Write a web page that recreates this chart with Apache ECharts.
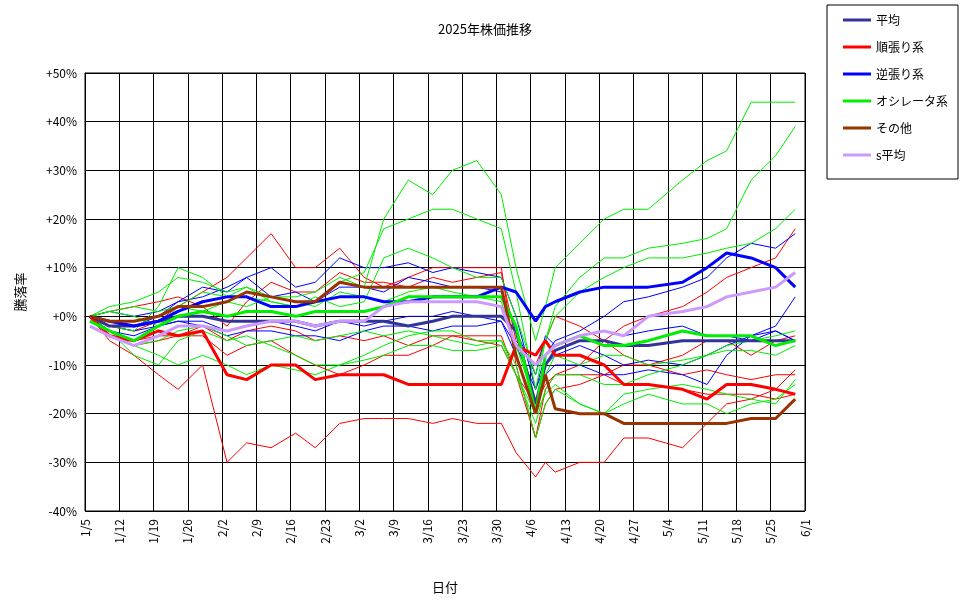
<!DOCTYPE html>
<html><head><meta charset="utf-8">
<script src="https://cdn.jsdelivr.net/npm/echarts@6/dist/echarts.min.js"></script>
<style>html,body{margin:0;padding:0;background:#fff}#c{width:970px;height:604px}</style>
</head><body><div id="c"></div>
<script>
const dates=['1/6','1/10','1/15','1/20','1/24','1/29','2/3','2/7','2/12','2/17','2/21','2/26','3/3','3/7','3/12','3/17','3/21','3/26','3/31','4/3','4/7','4/9','4/11','4/16','4/21','4/25','4/30','5/7','5/12','5/16','5/21','5/26','5/30'];
const heikin=[0,-2,-2,-1,0,0,-1,-1,-1,-1,-2,-1,-1,-1,-2,-1,0,0,0,-3,-18,-10,-7,-5,-5,-6,-6,-5,-5,-5,-5,-5,-5];
const junbari=[0,-4,-5,-3,-4,-3,-12,-13,-10,-10,-13,-12,-12,-12,-14,-14,-14,-14,-14,-6,-8,-5,-8,-8,-10,-14,-14,-15,-17,-14,-14,-15,-16];
const gyakubari=[0,-1,-2,-1,1,3,4,4,2,2,3,4,4,3,3,4,4,4,6,5,-1,2,3,5,6,6,6,7,10,13,12,10,6];
const oscillator=[-1,-3,-5,-2,0,1,0,1,1,0,1,1,1,2,4,4,4,4,4,-2,-20,-8,-6,-4,-6,-6,-5,-3,-4,-4,-4,-6,-5];
const sonota=[0,-1,-1,0,2,2,3,5,4,3,3,7,6,6,6,6,6,6,6,-8,-20,-12,-19,-20,-20,-22,-22,-22,-22,-22,-21,-21,-17];
const sHeikin=[-2,-4,-6,-4,-2,-2,-3,-2,-1,-1,-2,-1,-1,2,3,3,3,3,2,-6,-10,-8,-6,-4,-3,-4,0,1,2,4,5,6,9];
const redThin=[
[0,-2,-3,-1,2,5,8,12,17,10,10,14,8,6,8,10,10,10,10,-10,-25,-15,-12,-10,-5,-2,0,2,5,8,10,12,18],
[0,-5,-8,-12,-15,-10,-30,-26,-27,-24,-27,-22,-21,-21,-21,-22,-21,-22,-22,-28,-33,-30,-32,-30,-30,-25,-25,-27,-22,-18,-17,-15,-11],
[0,-3,-6,-5,-4,-4,-8,-6,-5,-8,-10,-12,-10,-8,-8,-6,-4,-4,-4,-12,-18,-14,-12,-12,-12,-14,-14,-15,-16,-16,-16,-17,-16],
[0,1,2,3,4,2,-2,3,7,5,5,9,7,7,6,8,7,8,9,-5,-10,-5,0,-2,-5,-8,-10,-8,-5,-5,-8,-5,-4],
[0,-3,-5,-4,-4,-2,-5,-3,-2,-3,-5,-4,-5,-4,-6,-4,-4,-5,-6,-12,-25,-18,-15,-14,-12,-10,-10,-12,-11,-12,-13,-12,-12]];
const blueThin=[
[0,-1,-2,0,3,6,5,8,10,6,7,12,10,10,11,9,10,9,8,0,-15,-8,-5,-3,0,3,4,6,8,12,15,14,17],
[0,-3,-4,-2,-1,-2,-4,-3,-3,-4,-4,-5,-3,-2,-2,-3,-2,-2,-1,-8,-20,-12,-10,-10,-12,-12,-11,-12,-14,-8,-4,-3,-5],
[0,1,0,1,3,4,6,8,4,5,3,6,6,5,8,7,6,6,5,-3,-12,-4,-6,-4,-3,-4,-3,-2,-4,-4,-5,-3,-5],
[0,-2,-3,-2,-1,-1,-3,-2,-1,-2,-3,-1,-2,-1,0,0,1,0,-1,-6,-15,-10,-8,-6,-8,-10,-9,-10,-8,-6,-4,-2,4]];
const greenThin=[
[0,2,3,5,8,7,5,6,4,4,5,8,6,20,28,25,30,32,25,10,-5,2,10,15,20,22,22,28,32,34,44,44,44],
[0,1,0,-2,2,5,4,4,3,2,3,7,9,18,20,22,22,20,18,5,-15,-5,2,8,12,12,14,15,16,18,28,33,39],
[0,-3,-8,-10,-5,-3,-5,-4,-6,-8,-10,-10,-8,-6,-4,-3,-3,-5,-5,-10,-25,-18,-15,-18,-20,-16,-15,-14,-15,-16,-17,-18,-13],
[0,-2,-3,2,10,8,4,6,3,2,4,2,3,12,14,12,10,8,8,0,-12,-5,0,5,8,10,12,12,13,14,15,18,22],
[0,-4,-6,-5,-3,-2,-4,-6,-5,-4,-5,-4,-3,-4,-3,-4,-5,-6,-5,-12,-22,-15,-12,-12,-14,-14,-12,-10,-8,-6,-5,-4,-3],
[0,1,2,1,2,1,3,2,4,3,2,5,4,3,5,6,5,4,3,-6,-18,-12,-8,-10,-8,-8,-10,-9,-8,-7,-7,-8,-6],
[0,-3,-6,-8,-10,-8,-10,-12,-10,-11,-12,-10,-9,-8,-6,-6,-7,-7,-6,-12,-20,-16,-14,-18,-20,-18,-16,-18,-18,-20,-18,-17,-14]];

const base=Date.UTC(2025,0,5);
function day(s){const [m,d]=s.split('/').map(Number);return Math.round((Date.UTC(2025,m-1,d)-base)/86400000);}
function lab(v){const t=new Date(base+v*86400000);return (t.getUTCMonth()+1)+'/'+t.getUTCDate();}
function pts(a){return a.map((v,i)=>[day(dates[i]),v]);}
const series=[];
function thin(arr,color){arr.forEach(a=>series.push({type:'line',data:pts(a),symbol:'none',lineStyle:{width:1,color},silent:true,z:1}));}
thin(redThin,'#ff0000');thin(blueThin,'#0000ff');thin(greenThin,'#00ee00');
function bold(name,a,color){series.push({name,type:'line',data:pts(a),symbol:'none',itemStyle:{color},lineStyle:{width:3,color},z:3});}
bold('平均',heikin,'#333399');
bold('順張り系',junbari,'#ff0000');
bold('逆張り系',gyakubari,'#0000ff');
bold('オシレータ系',oscillator,'#00ee00');
bold('その他',sonota,'#993300');
bold('s平均',sHeikin,'#cc99ff');

const font='"Noto Sans CJK JP", sans-serif';
echarts.init(document.getElementById('c')).setOption({
  backgroundColor:'#fff',animation:false,
  textStyle:{fontFamily:font,color:'#000'},
  title:{text:'2025年株価推移',left:480,top:18,textAlign:'center',textStyle:{fontSize:13,fontWeight:'normal',color:'#000',fontFamily:font}},
  legend:{data:['平均','順張り系','逆張り系','オシレータ系','その他','s平均'],orient:'vertical',left:827,top:5,width:131,height:165,
    padding:[9,10,18,16],itemGap:15,itemWidth:28,itemHeight:3,borderColor:'#000',borderWidth:1,icon:'rect',
    textStyle:{fontSize:12,color:'#000',fontFamily:font}},
  grid:{left:85,right:165,top:73,bottom:93,show:true,borderColor:'#000',borderWidth:1},
  xAxis:{type:'value',min:0,max:147,interval:7,name:'日付',nameLocation:'middle',nameGap:70,nameTextStyle:{fontSize:13,color:'#000'},
    axisLine:{lineStyle:{color:'#000'}},axisTick:{show:false},
    splitLine:{lineStyle:{color:'#000',width:1}},
    axisLabel:{rotate:90,formatter:lab,fontSize:12,color:'#000',margin:8}},
  yAxis:{type:'value',min:-40,max:50,interval:10,name:'騰落率',nameLocation:'middle',nameGap:58,nameRotate:90,nameTextStyle:{fontSize:13,color:'#000'},
    axisLine:{show:true,lineStyle:{color:'#000'}},axisTick:{show:false},
    splitLine:{lineStyle:{color:'#000',width:1}},
    axisLabel:{formatter:v=>(v>=0?'+':'')+v+'%',fontSize:12,color:'#000'}},
  series
});
</script></body></html>
